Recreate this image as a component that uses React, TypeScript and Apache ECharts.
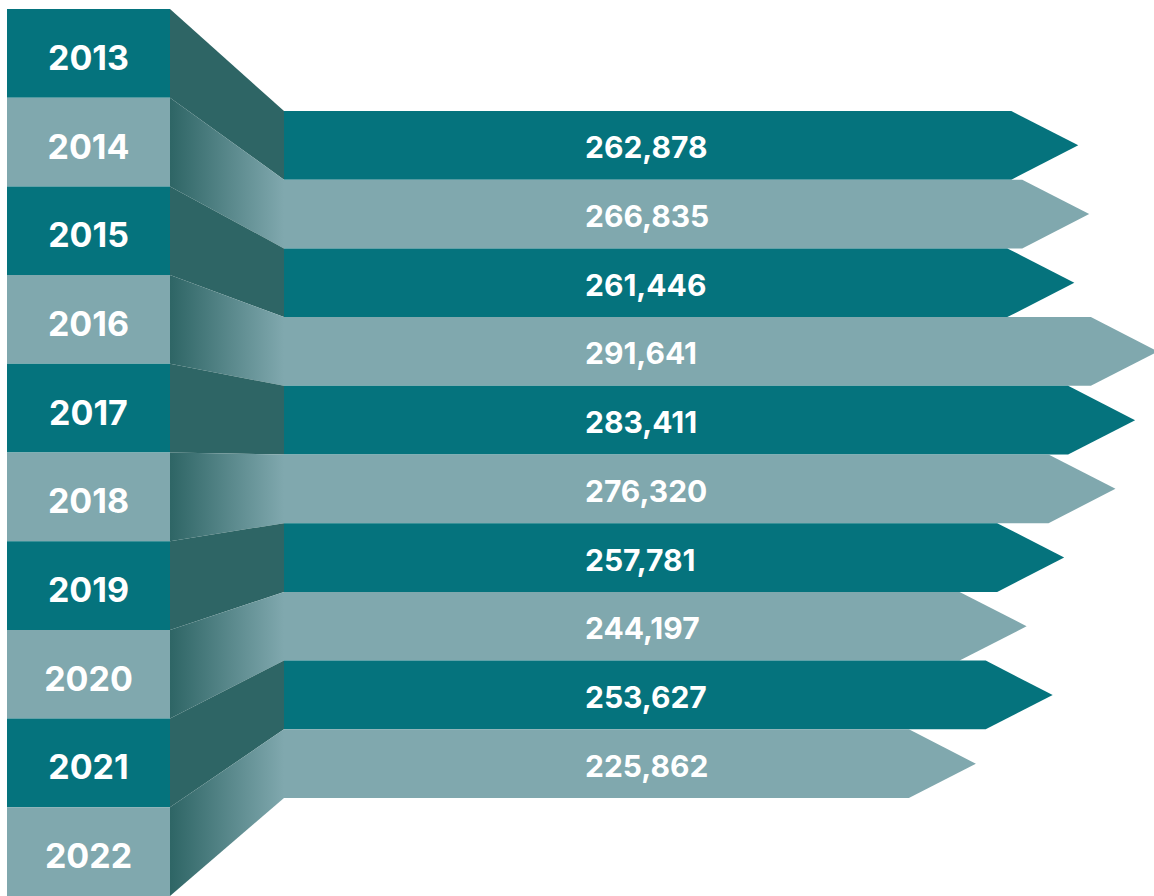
import React, { useEffect, useRef } from "react";
import * as echarts from "echarts";

const years = ["2013", "2014", "2015", "2016", "2017", "2018", "2019", "2020", "2021", "2022"];
const values = [262878, 266835, 261446, 291641, 283411, 276320, 257781, 244197, 253627, 225862];

const DARK = "#05737D";
const LIGHT = "#80A8AE";
const SHADE = "#2E6565";
const FONT = "Inter";

export default function App() {
  const ref = useRef<HTMLDivElement>(null);

  useEffect(() => {
    document.body.style.margin = "0";
    const chart = echarts.init(ref.current as HTMLDivElement, null, { renderer: "svg" });
    const colorOf = (i: number) => (i % 2 === 0 ? DARK : LIGHT);

    const base: any = {
      animation: false,
      grid: [
        { left: 7, top: 9, width: 163, height: 889 },
        { left: 284, top: 111, width: 830, height: 687 },
      ],
      xAxis: [
        { type: "value", gridIndex: 0, min: 0, max: 1, show: false },
        { type: "value", gridIndex: 1, min: 0, max: 300000, show: false },
      ],
      yAxis: [
        { type: "category", gridIndex: 0, data: years, inverse: true, show: false },
        { type: "category", gridIndex: 1, data: years, inverse: true, show: false },
      ],
      series: [
        {
          id: "years",
          type: "custom",
          xAxisIndex: 0,
          yAxisIndex: 0,
          encode: { x: 0, y: 1 },
          data: years.map((y) => [1, y]),
          renderItem: (params: any, api: any) => {
            const idx = api.value(1);
            const l = api.coord([0, idx]);
            const r = api.coord([1, idx]);
            const h = api.size([0, 1])[1];
            return {
              type: "group",
              children: [
                {
                  type: "rect",
                  shape: { x: l[0], y: l[1] - h / 2, width: r[0] - l[0], height: h },
                  style: { fill: colorOf(params.dataIndex) },
                },
                {
                  type: "text",
                  style: {
                    text: years[params.dataIndex],
                    x: (l[0] + r[0]) / 2,
                    y: l[1] + 4,
                    fill: "#ffffff",
                    fontFamily: FONT,
                    fontWeight: 700,
                    fontSize: 34,
                    align: "center",
                    verticalAlign: "middle",
                  },
                },
              ],
            };
          },
        },
        {
          id: "bars",
          type: "custom",
          xAxisIndex: 1,
          yAxisIndex: 1,
          encode: { x: 0, y: 1 },
          data: values.map((v, i) => [v, years[i]]),
          renderItem: (params: any, api: any) => {
            const v = api.value(0);
            const idx = api.value(1);
            const s = api.coord([0, idx]);
            const e = api.coord([v, idx]);
            const h = api.size([0, 1])[1];
            const tip = h * 0.975;
            const top = s[1] - h / 2;
            const bot = s[1] + h / 2;
            return {
              type: "group",
              children: [
                {
                  type: "polygon",
                  shape: {
                    points: [
                      [s[0], top],
                      [e[0], top],
                      [e[0] + tip, s[1]],
                      [e[0], bot],
                      [s[0], bot],
                    ],
                  },
                  style: { fill: colorOf(params.dataIndex) },
                },
                {
                  type: "text",
                  style: {
                    text: Number(v).toLocaleString("en-US"),
                    x: s[0] + 301,
                    y: s[1] + 2,
                    fill: "#ffffff",
                    fontFamily: FONT,
                    fontWeight: 700,
                    fontSize: 30,
                    align: "left",
                    verticalAlign: "middle",
                  },
                },
              ],
            };
          },
        },
      ],
    };
    chart.setOption(base);

    chart.setOption({
      series: [
        {
          id: "connectors",
          type: "custom",
          xAxisIndex: 0,
          yAxisIndex: 0,
          encode: { x: 0, y: 1 },
          z: 1,
          data: years.map((y) => [1, y]),
          renderItem: (params: any, api: any) => {
            const i = params.dataIndex;
            const r = api.coord([1, i]);
            const h = api.size([0, 1])[1];
            const b = chart.convertToPixel({ gridIndex: 1 }, [0, i]) as number[];
            const b0 = chart.convertToPixel({ gridIndex: 1 }, [0, 0]) as number[];
            const b1 = chart.convertToPixel({ gridIndex: 1 }, [0, 1]) as number[];
            if (!b || !b0 || !b1) return null;
            const bh = Math.abs(b1[1] - b0[1]);
            const fill =
              i % 2 === 0
                ? SHADE
                : {
                    type: "linear",
                    x: 0,
                    y: 0,
                    x2: 1,
                    y2: 0,
                    colorStops: [
                      { offset: 0, color: SHADE },
                      { offset: 1, color: LIGHT },
                    ],
                  };
            return {
              type: "polygon",
              shape: {
                points: [
                  [r[0], r[1] - h / 2],
                  [b[0], b[1] - bh / 2],
                  [b[0], b[1] + bh / 2],
                  [r[0], r[1] + h / 2],
                ],
              },
              style: { fill },
            };
          },
        },
      ],
    });

    return () => chart.dispose();
  }, []);

  return <div ref={ref} style={{ width: 1154, height: 896 }} />;
}
